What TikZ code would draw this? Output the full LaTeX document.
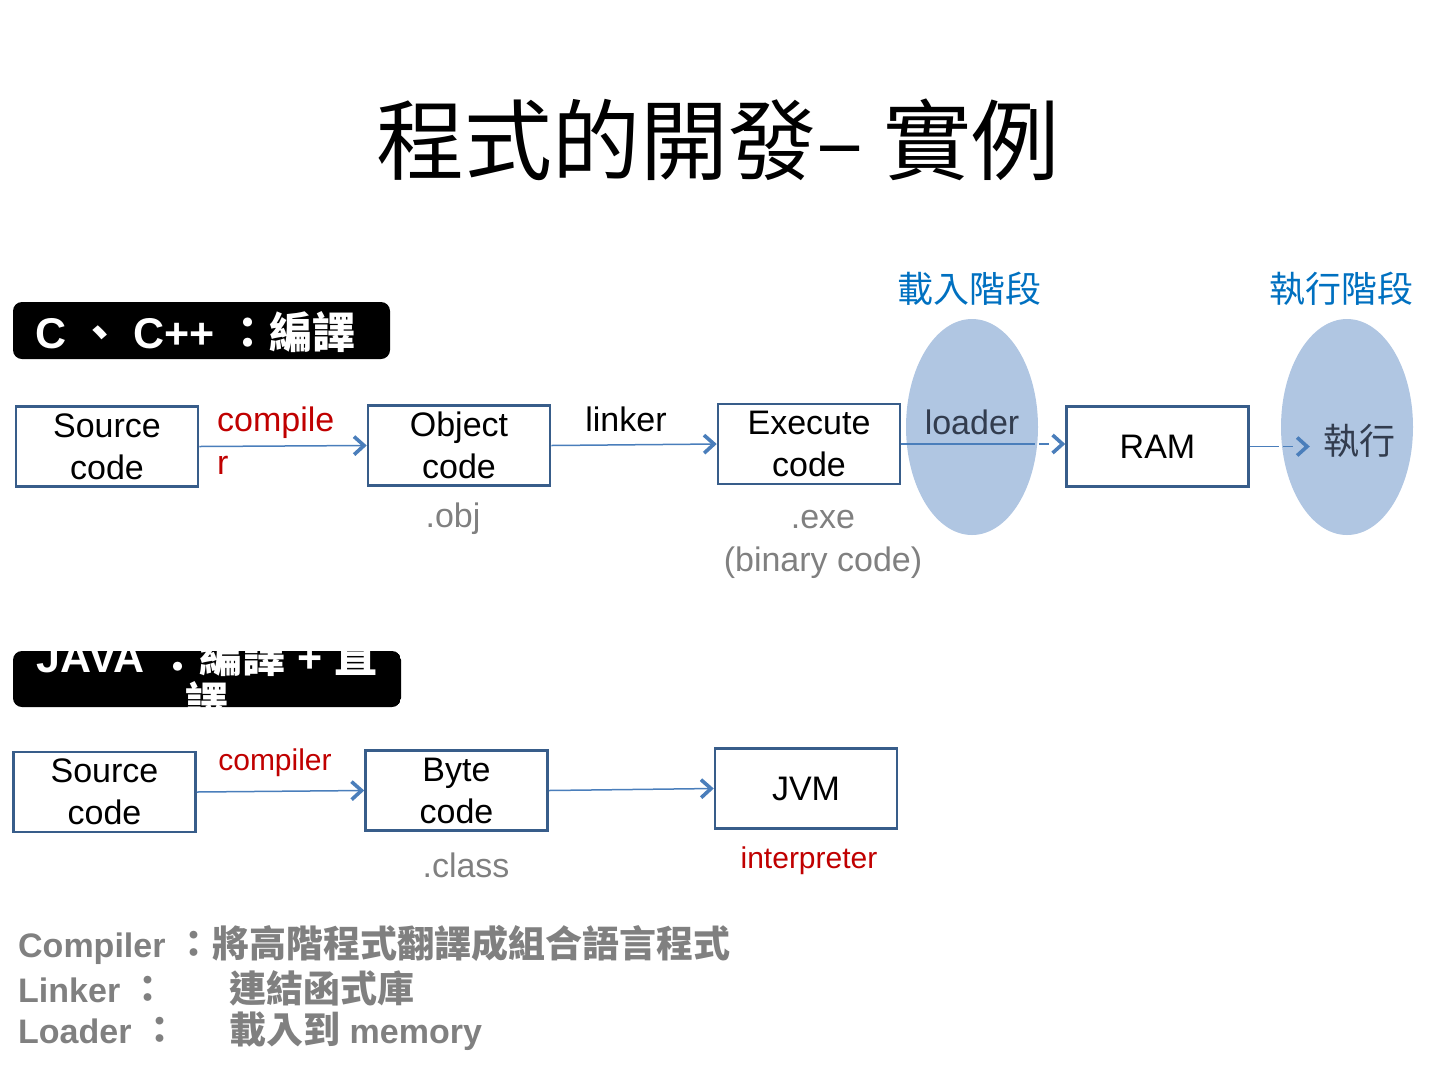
\documentclass[tikz,border=0pt]{standalone}
\usepackage{fontspec}
\setmainfont{Liberation Sans}
\newfontfamily\cjk{Noto Sans CJK TC}
\usetikzlibrary{arrows.meta,shapes.geometric}
\definecolor{boxline}{RGB}{56,93,138}
\definecolor{arrowblue}{RGB}{74,126,187}
\definecolor{ellfill}{RGB}{176,198,226}
\definecolor{phaseblue}{RGB}{0,112,192}
\definecolor{darkred}{RGB}{192,0,0}
\definecolor{notegray}{RGB}{128,128,128}
\definecolor{runtext}{RGB}{50,60,78}
\newcommand\zhtext[1]{{\cjk #1}}
\begin{document}
\begin{tikzpicture}[x=1pt,y=-1pt,
  box/.style={draw=boxline, line width=2.5pt, fill=white, minimum width=182pt, minimum height=80pt, inner sep=0pt, align=center, font=\fontsize{34}{42}\selectfont},
  conn/.style={draw=arrowblue, line width=1.5pt, -{Straight Barb[length=10pt,width=18pt,line width=3.6pt]}},
  phase/.style={ellipse, fill=ellfill, minimum width=132pt, minimum height=216pt, inner sep=0pt},
  lbl/.style={inner sep=0pt, font=\fontsize{34}{42}\selectfont},
  redlbl/.style={lbl, text=darkred},
  graylbl/.style={lbl, text=notegray},
  phasetxt/.style={inner sep=0pt, text=phaseblue, font=\cjk\fontsize{36}{40}\selectfont},
  tag/.style={fill=black, rounded corners=9pt},
  tagtxt/.style={inner sep=0pt, text=white, font=\bfseries\fontsize{43}{46}\selectfont},
  notetxt/.style={inner sep=0pt, anchor=west, text=notegray, font=\bfseries\fontsize{34}{40}\selectfont}
]
\useasboundingbox (0,0) rectangle (1440,1080);

% title
\node[inner sep=0pt, font=\cjk\fontsize{88}{96}\selectfont] (title) at (718,140) {程式的開發– 實例};

% C / C++ tag
\fill[tag] (13,302) rectangle (390,359);
\node[tagtxt, anchor=base west] (ctag) at (35,348) {C \zhtext{\bfseries 、} C++ \zhtext{\bfseries ：編譯}};

% phase ellipses
\node[phase] (loadell) at (972,427) {};
\node[phase] (runell) at (1347,427) {};
\node[phasetxt] (loadphase) at (969,289) {載入階段};
\node[phasetxt] (runphase) at (1341,289) {執行階段};

% row 1 boxes
\node[box] (src) at (107,446.5) {Source\\code};
\node[box] (obj) at (459,445.5) {Object\\code};
\node[box] (exe) at (809,444) {Execute\\code};
\node[box] (ram) at (1157.5,446.5) {RAM};
\node[inner sep=0pt, text=runtext, font=\cjk\fontsize{36}{40}\selectfont] (runtxt) at (1359,441) {執行};

% row 1 connectors
\draw[conn] (src.east) -- (obj.west);
\draw[conn] (obj.east) -- (exe.west);
\draw[conn, dash pattern=on 134pt off 4pt on 10pt off 30pt] (exe.east) -- (exe.east -| ram.west);
\draw[conn, shorten >=13pt, dash pattern=on 29pt off 4pt on 10pt off 30pt] (ram.east) -- (ram.east -| runtxt.west);

% row 1 labels
\node[redlbl, anchor=west, align=left, font=\fontsize{34}{43}\selectfont] (complbl) at (217,441) {compile\\r};
\node[lbl] (linklbl) at (626,419) {linker};
\node[lbl, text=runtext] (loadlbl) at (972,422) {loader};
\node[graylbl] (objext) at (453,519) {.obj};
\node[graylbl, align=center, font=\fontsize{34}{43}\selectfont] (exeext) at (823,544) {.exe\\(binary code)};

% JAVA tag (text clipped by the box)
\begin{scope}
\clip[rounded corners=9pt] (13,651) rectangle (401,707);
\fill[tag] (13,651) rectangle (401,707);
\node[tagtxt, anchor=base] (javatag) at (207,672) {JAVA \zhtext{\bfseries ：編譯} + \zhtext{\bfseries 直}};
\node[tagtxt, anchor=base, font=\cjk\bfseries\fontsize{43}{46}\selectfont] (javatag2) at (207,718) {譯};
\end{scope}

% row 2 boxes
\node[box] (src2) at (104.5,792) {Source\\code};
\node[box] (byte) at (456.5,790.5) {Byte\\code};
\node[box] (jvm) at (806,788.5) {JVM};

% row 2 connectors
\draw[conn] (src2.east) -- (byte.west);
\draw[conn] (byte.east) -- (jvm.west);

% row 2 labels
\node[redlbl, font=\fontsize{30}{36}\selectfont] (complbl2) at (275,763) {compiler};
\node[graylbl] (classext) at (466,865) {.class};
\node[redlbl, font=\fontsize{30}{36}\selectfont] (interp) at (809,861) {interpreter};

% notes
\node[notetxt] (n1) at (18,945) {Compiler \zhtext{\bfseries\fontsize{37}{40}\selectfont ：將高階程式翻譯成組合語言程式}};
\node[notetxt] (n2) at (18,988) {\makebox[211pt][l]{Linker \zhtext{\bfseries\fontsize{37}{40}\selectfont ：}}\zhtext{\bfseries\fontsize{37}{40}\selectfont 連結函式庫}};
\node[notetxt] (n3) at (18,1031) {\makebox[211pt][l]{Loader \zhtext{\bfseries\fontsize{37}{40}\selectfont ：}}\zhtext{\bfseries\fontsize{37}{40}\selectfont 載入到} memory};
\end{tikzpicture}
\end{document}
